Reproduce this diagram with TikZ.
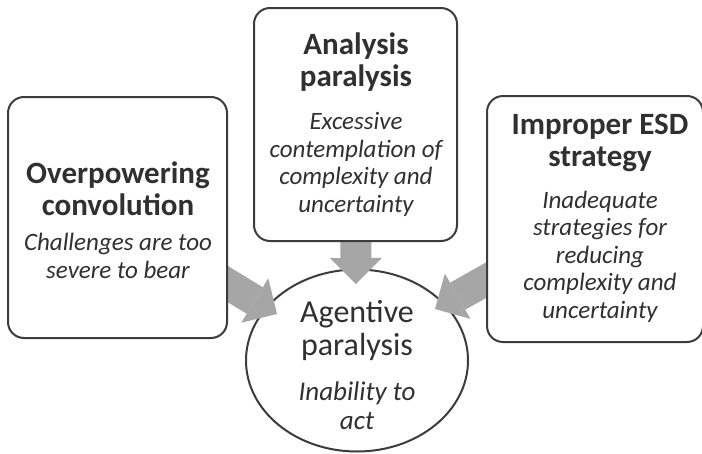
\documentclass[tikz,border=0pt]{standalone}
\usepackage{fontspec}
\setmainfont{Carlito}
\usetikzlibrary{shapes.geometric,arrows.meta}
\definecolor{linec}{HTML}{3C3C3C}
\definecolor{txtc}{HTML}{303030}
\definecolor{arrowc}{HTML}{A6A6A6}
\pgfdeclarelayer{back}
\pgfdeclarelayer{mid}
\pgfsetlayers{back,mid,main}
\tikzset{
  box/.style={draw=linec, line width=2pt, fill=white, rounded corners=16pt,
    rectangle, inner sep=0pt},
  hub/.style={draw=linec, line width=2pt, ellipse, inner sep=0pt},
  ttl/.style={font=\fontsize{31}{32}\selectfont\bfseries, text=txtc,
    align=center, inner sep=0pt, anchor=base},
  dsc/.style={font=\fontsize{25}{27.5}\selectfont\itshape, text=txtc,
    align=center, inner sep=0pt, anchor=base},
  hubttl/.style={font=\fontsize{32}{33}\selectfont, text=txtc,
    align=center, inner sep=0pt, anchor=base},
  hubdsc/.style={font=\fontsize{27}{29}\selectfont\itshape, text=txtc,
    align=center, inner sep=0pt, anchor=base},
  blockarrow/.style={draw=arrowc, line width=31pt,
    -{Triangle[width=52pt,length=26pt,line width=0pt]}, shorten <=-14pt},
}
\begin{document}
\begin{tikzpicture}[x=1pt,y=-1pt]
  % white page and central outcome on the back layer
  \begin{pgfonlayer}{back}
    \fill[white] (0,0) rectangle (702,453);
    \node[hub, minimum width=222pt, minimum height=182pt] (agent) at (357,360.5) {};
  \end{pgfonlayer}
  \useasboundingbox (0,0) rectangle (702,453);

  % multi-line nodes are anchored at the baseline of their last line
  \node[hubttl] (agentT) at (357,355) {Agentive\\paralysis};
  \node[hubdsc] (agentD) at (357,429) {Inability to\\act};

  % three causes
  \node[box, minimum width=219pt, minimum height=241pt] (lbox) at (117.5,217.5) {};
  \node[box, minimum width=203pt, minimum height=233pt] (tbox) at (355.5,124.5) {};
  \node[box, minimum width=216pt, minimum height=246pt] (rbox) at (595,219) {};

  \node[ttl] (lT) at (118,215) {Overpowering\\convolution};
  \node[dsc] (lD) at (118,278) {Challenges are too\\severe to bear};

  \node[ttl] (tT) at (356,86) {Analysis\\paralysis};
  \node[dsc] (tD) at (356,212) {Excessive\\contemplation of\\complexity and\\uncertainty};

  \node[ttl] (rT) at (600,166) {Improper ESD\\strategy};
  \node[dsc] (rD) at (600,318) {Inadequate\\strategies for\\reducing\\complexity and\\uncertainty};

  % arrow tips inside the ellipse
  \coordinate (ltip) at (277,314);
  \coordinate (ttip) at (356,284);
  \coordinate (rtip) at (435,309);

  \begin{pgfonlayer}{mid}
    \draw[blockarrow] (lbox) -- (ltip);
    \draw[blockarrow] (tbox) -- (ttip);
    \draw[blockarrow] (rbox) -- (rtip);
  \end{pgfonlayer}
\end{tikzpicture}
\end{document}
